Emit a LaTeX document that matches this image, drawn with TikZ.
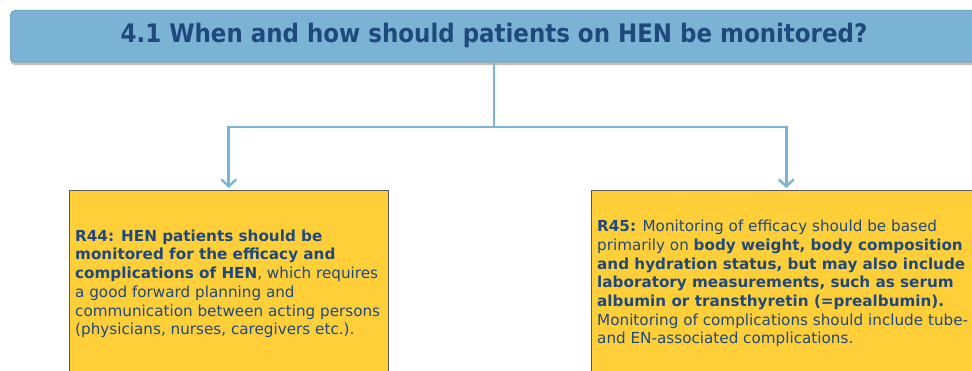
\documentclass[tikz,border=0pt]{standalone}
\usepackage{fontspec}
\setmainfont{DejaVu Sans}
\newfontfamily\titlefont{DejaVu Sans Condensed}
\usetikzlibrary{arrows.meta,shadows}
\definecolor{hdr}{RGB}{123,179,213}
\definecolor{txt}{RGB}{31,73,125}
\definecolor{boxy}{RGB}{255,207,58}
\definecolor{conncol}{RGB}{122,180,214}
\tikzset{
  titlebox/.style={draw=hdr!80!black, line width=0.4pt, fill=hdr, rounded corners=5pt,
    drop shadow={shadow xshift=0pt, shadow yshift=-3pt, opacity=0.5, fill=gray},
    minimum width=968pt, minimum height=52pt, inner sep=0pt, anchor=north west},
  recbox/.style={draw=gray!70!black, line width=0.5pt, fill=boxy, anchor=north west, inner sep=0pt},
  rectext/.style={text=txt, font=\fontsize{15.2}{18.7}\selectfont, align=left, anchor=north west, inner sep=0pt},
  conn/.style={draw=conncol, line width=2.6pt},
  connarrow/.style={conn, -{Straight Barb[length=7pt,width=15pt,line width=2.4pt]}},
}
\begin{document}
\begin{tikzpicture}[x=1pt,y=-1pt]
\useasboundingbox (0,0) rectangle (972,371);
\clip (0,0) rectangle (972,371);
\node[titlebox] (title) at (10,10) {};
\node[text=txt, font=\titlefont\bfseries\fontsize{25.5}{28}\selectfont] (ttext) at (494,35) {4.1 When and how should patients on HEN be monitored?};
\node[recbox, minimum width=319pt, minimum height=200pt] (L) at (69,190) {};
\node[recbox, minimum width=390pt, minimum height=200pt] (R) at (591,190) {};
\coordinate (j) at (494,127);
\draw[conn] (494,62) -- (j);
\draw[connarrow] (j) -| ([yshift=2pt]L.north);
\draw[connarrow] (j) -| ([yshift=2pt]R.north);
\node[rectext] (Lt) at (75,229.5) {\textbf{R44: HEN patients should be}\\
\textbf{monitored for the efficacy and}\\
\textbf{complications of HEN}, which requires\\
a good forward planning and\\
communication between acting persons\\
(physicians, nurses, caregivers etc.).};
\node[rectext] (Rt) at (597,220) {\textbf{R45:} Monitoring of efficacy should be based\\
primarily on \textbf{body weight, body composition}\\
\textbf{and hydration status, but may also include}\\
\textbf{laboratory measurements, such as serum}\\
\textbf{albumin or transthyretin (=prealbumin).}\\
Monitoring of complications should include tube-\\
and EN-associated complications.};
\end{tikzpicture}
\end{document}
